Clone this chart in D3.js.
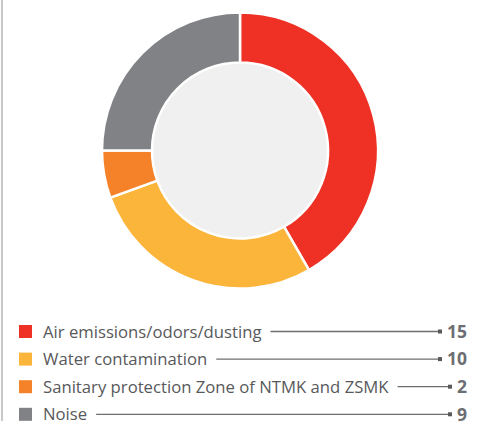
<!DOCTYPE html>
<html><head><meta charset="utf-8">
<script src="https://cdn.jsdelivr.net/npm/d3@7"></script>
<style>body{margin:0;background:#fff}svg{display:block}</style>
</head><body>
<svg id="c" width="482" height="421"></svg>
<script>
const categories = ["Air emissions/odors/dusting","Water contamination","Sanitary protection Zone of NTMK and ZSMK","Noise"];
const values = [15, 10, 2, 9];
const colors = ["#ee3124","#fbb53b","#f58229","#808285"];

const svg = d3.select("#c");
// left border
svg.append("line").attr("x1",2).attr("x2",2).attr("y1",0).attr("y2",421)
  .attr("stroke","#c8c8c8").attr("stroke-width",2);

const cx = 240, cy = 150.5, rOut = 138, rIn = 88;
const g = svg.append("g").attr("transform",`translate(${cx},${cy})`);
g.append("circle").attr("r",rIn).attr("fill","#f0f0f0");
const pie = d3.pie().sort(null).value(d=>d)(values);
const arc = d3.arc().innerRadius(rIn).outerRadius(rOut);
g.selectAll("path").data(pie).enter().append("path")
  .attr("d",arc).attr("fill",(d,i)=>colors[i])
  .attr("stroke","#fff").attr("stroke-width",2.5);

// legend
const y0 = 331.5, dy = 27.6;
const leg = svg.append("g");
const rowY = d3.scaleLinear().domain([0,1]).range([y0,y0+dy]);
categories.forEach((c,i)=>{
  const y = rowY(i);
  leg.append("rect").attr("x",19).attr("y",y-6.5).attr("width",13).attr("height",13).attr("fill",colors[i]);
  const t = leg.append("text").attr("x",43).attr("y",y).attr("dy","0.36em")
    .attr("font-family","Open Sans, sans-serif").attr("font-size",16.7).attr("fill","#58595b").text(c);
  const w = t.node().getComputedTextLength();
  const v = leg.append("text").attr("x",467).attr("y",y).attr("dy","0.36em").attr("text-anchor","end")
    .attr("font-family","Open Sans, sans-serif").attr("font-weight","bold").attr("font-size",17.5)
    .attr("fill","#6d6e71").text(values[i]);
  const vw = v.node().getComputedTextLength();
  const mx = 467 - vw - 5 - 4;
  leg.append("line").attr("x1",43+w+9).attr("x2",mx).attr("y1",y).attr("y2",y)
    .attr("stroke","#6d6e71").attr("stroke-width",1.3);
  leg.append("rect").attr("x",mx).attr("y",y-2).attr("width",4).attr("height",4).attr("fill","#58595b");
});
</script>
</body></html>
